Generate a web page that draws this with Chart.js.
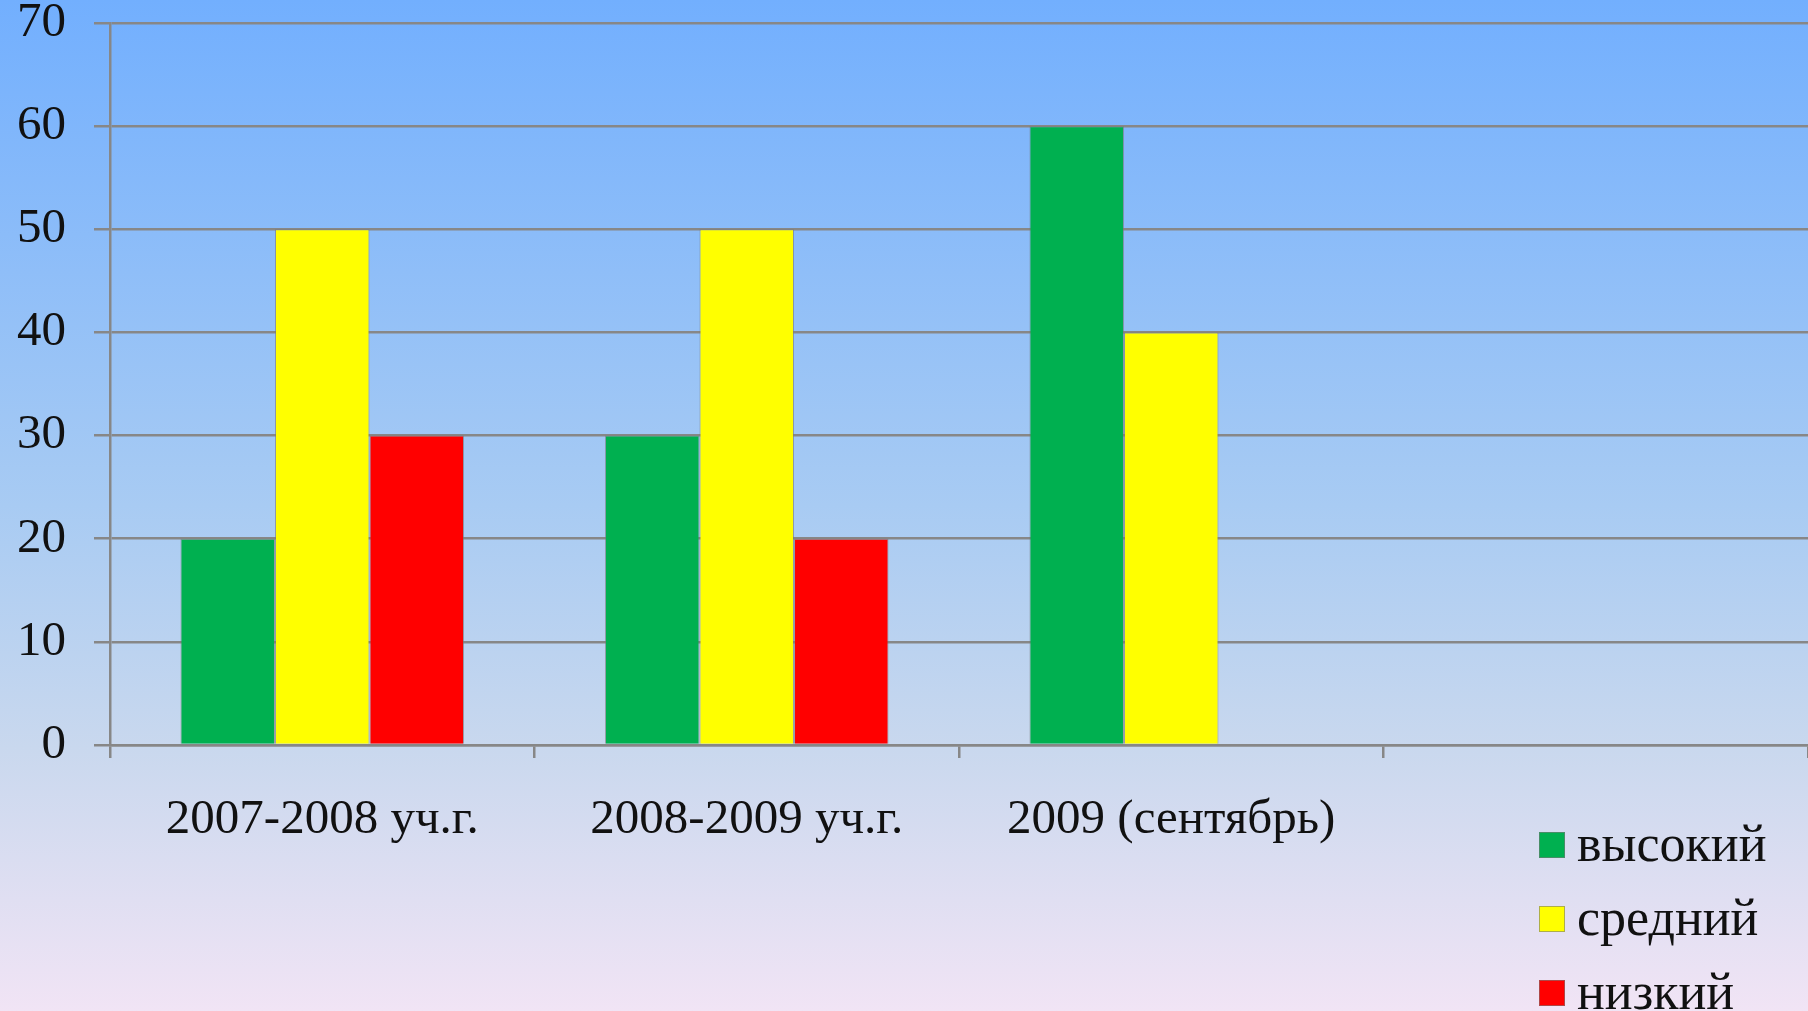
<!DOCTYPE html>
<html>
<head>
<meta charset="utf-8">
<script src="https://cdn.jsdelivr.net/npm/chart.js@4.4.1/dist/chart.umd.min.js"></script>
<style>
    html, body {
        margin: 0;
        padding: 0;
    }
    body {
        width: 1808px;
        height: 1011px;
        overflow: hidden;
        background: linear-gradient(to bottom, #72affe 0%, #a8cbf3 50%, #c9d8ee 74%, #f1e4f5 100%);
    }
    #wrap {
        width: 1808px;
        height: 1011px;
        position: relative;
    }
</style>
</head>
<body>
<div id="wrap"><canvas id="MyChart"></canvas></div>
<script>
const categories = ["2007-2008 уч.г.", "2008-2009 уч.г.", "2009 (сентябрь)", ""];
const seriesNames = ["высокий", "средний", "низкий"];
const highValues = [20, 30, 60, null];
const midValues = [50, 50, 40, null];
const lowValues = [30, 20, null, null];
const yTicks = [0, 10, 20, 30, 40, 50, 60, 70];

const fontFamily = "'Liberation Serif', 'DejaVu Serif', serif";
const gridColor = "#878787";

// legend drawn by hand, stacked at the bottom right
const sideLegend = {
    id: "sideLegend",
    afterDraw(chart) {
        const c = chart.ctx;
        c.save();
        c.font = "52px " + fontFamily;
        c.textBaseline = "middle";
        chart.data.datasets.forEach((ds, i) => {
            const y = 845 + i * 74;
            c.fillStyle = ds.backgroundColor;
            c.fillRect(1539, y - 13, 26, 26);
            c.strokeStyle = "rgba(120,120,120,0.6)";
            c.lineWidth = 1;
            c.strokeRect(1539.5, y - 12.5, 25, 25);
            c.fillStyle = "#111";
            c.fillText(ds.label, 1577, y + 2);
        });
        c.restore();
    }
};

const ctx = document.getElementById("MyChart").getContext("2d");

new Chart(ctx, {
    type: "bar",
    data: {
        labels: categories,
        datasets: [
            {
                label: seriesNames[0],
                data: highValues,
                backgroundColor: "#00b050",
                borderColor: "rgba(120,120,120,0.6)",
                borderWidth: 1
            },
            {
                label: seriesNames[1],
                data: midValues,
                backgroundColor: "#ffff00",
                borderColor: "rgba(120,120,120,0.6)",
                borderWidth: 1
            },
            {
                label: seriesNames[2],
                data: lowValues,
                backgroundColor: "#ff0000",
                borderColor: "rgba(120,120,120,0.6)",
                borderWidth: 1
            }
        ]
    },
    options: {
        responsive: true,
        maintainAspectRatio: false,
        animation: false,
        layout: {
            padding: { top: 23, right: 0, left: 0, bottom: 0 }
        },
        datasets: {
            bar: {
                barPercentage: 1,
                categoryPercentage: 0.668
            }
        },
        plugins: {
            legend: { display: false },
            tooltip: { enabled: false }
        },
        scales: {
            x: {
                afterFit(scale) { scale.height = 266; },
                grid: {
                    offset: true,
                    drawOnChartArea: false,
                    drawTicks: true,
                    tickLength: 13,
                    color: gridColor,
                    lineWidth: 2.5
                },
                border: { color: gridColor, width: 2.5 },
                ticks: {
                    color: "#111",
                    padding: 33,
                    maxRotation: 0,
                    font: { family: fontFamily, size: 49 }
                }
            },
            y: {
                min: 0,
                max: 70,
                afterFit(scale) {
                    scale.width = 110;
                    scale.paddingTop = 0;
                    scale.paddingBottom = 0;
                },
                afterBuildTicks(scale) {
                    scale.ticks = yTicks.map(v => ({ value: v }));
                },
                grid: {
                    color: gridColor,
                    lineWidth: 2.5,
                    tickLength: 16
                },
                border: { color: gridColor, width: 2.5 },
                ticks: {
                    color: "#111",
                    padding: 28,
                    font: { family: fontFamily, size: 49 }
                }
            }
        }
    },
    plugins: [sideLegend]
});
</script>
</body>
</html>
